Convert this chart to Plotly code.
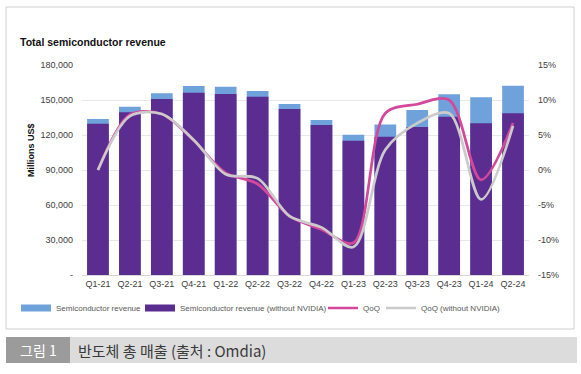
import plotly.graph_objects as go

quarters = ["Q1-21", "Q2-21", "Q3-21", "Q4-21", "Q1-22", "Q2-22", "Q3-22",
            "Q4-22", "Q1-23", "Q2-23", "Q3-23", "Q4-23", "Q1-24", "Q2-24"]
revenue_total = [133700, 144300, 155700, 162000, 161400, 157700, 146600,
                 132900, 120300, 129100, 141400, 154900, 152300, 162300]
revenue_ex_nvidia = [129700, 139400, 150900, 156300, 155100, 152800, 142300,
                     128600, 115100, 118600, 126900, 135700, 130000, 138600]
qoq_total = [0.0, 7.9, 8.0, 4.2, -0.4, -2.0, -6.6, -8.5, -10.4, 8.1, 9.4, 10.0, -1.4, 6.7]
qoq_ex_nvidia = [0.0, 7.7, 8.0, 4.3, -0.6, -1.2, -6.6, -8.2, -11.0, 2.9, 6.7, 8.1, -4.2, 6.3]

left_tickvals = [0, 30000, 60000, 90000, 120000, 150000, 180000]
left_ticktext = ["-", "30,000", "60,000", "90,000", "120,000", "150,000", "180,000"]
right_tickvals = [-15, -10, -5, 0, 5, 10, 15]
right_ticktext = ["-15%", "-10%", "-5%", "0%", "5%", "10%", "15%"]

BLUE = "#6FA1DB"
PURPLE = "#5C2D91"
PINK = "#D4489C"
GRAY = "#CBCBCB"
FONT = "Liberation Sans"
TXT = "#404040"

OFF = 0  # body margin removed by post_script
W, H = 581, 374
PL, PT, PWID, PHGT = 82, 65, 447, 210  # plot area in page pixels
L, T = PL - OFF, PT - OFF
R, B = W - L - PWID, H - T - PHGT


def px(x):
    return (x - PL) / PWID


def py(y):
    return (PT + PHGT - y) / PHGT


fig = go.Figure()
fig.add_trace(go.Bar(x=quarters, y=revenue_total, name="Semiconductor revenue",
                     marker=dict(color=BLUE, line=dict(width=0)), width=0.68,
                     showlegend=False))
fig.add_trace(go.Bar(x=quarters, y=revenue_ex_nvidia, name="Semiconductor revenue (without NVIDIA)",
                     marker=dict(color=PURPLE, line=dict(width=0)), width=0.68,
                     showlegend=False))
fig.add_trace(go.Scatter(x=quarters, y=qoq_total, name="QoQ", yaxis="y2", mode="lines",
                         line=dict(color=PINK, width=2.7, shape="spline", smoothing=0.9),
                         legend="legend3"))
fig.add_trace(go.Scatter(x=quarters, y=qoq_ex_nvidia, name="QoQ (without NVIDIA)", yaxis="y2",
                         mode="lines",
                         line=dict(color=GRAY, width=2.7, shape="spline", smoothing=0.9),
                         legend="legend4"))
# legend-only entries for the bar series (rectangular swatches)
fig.add_trace(go.Scatter(x=[None], y=[None], name="Semiconductor revenue", mode="lines",
                         line=dict(color=BLUE, width=7), legend="legend", hoverinfo="skip"))
fig.add_trace(go.Scatter(x=[None], y=[None], name="Semiconductor revenue (without NVIDIA)",
                         mode="lines", line=dict(color=PURPLE, width=7), legend="legend2",
                         hoverinfo="skip"))

shapes = [
    dict(type="rect", xref="paper", yref="paper", x0=px(6), x1=px(574), y0=py(329), y1=py(7),
         line=dict(color="#D0D0D0", width=1), fillcolor="rgba(0,0,0,0)", layer="below"),
    dict(type="rect", xref="paper", yref="paper", x0=px(6), x1=px(577), y0=py(363), y1=py(337),
         line=dict(width=0), fillcolor="#DCDCDC", layer="below"),
    dict(type="rect", xref="paper", yref="paper", x0=px(6), x1=px(70), y0=py(363), y1=py(337),
         line=dict(width=0), fillcolor="#9B9B9B", layer="below"),
]

annotations = [
    dict(text="<b>Total semiconductor revenue</b>", xref="paper", yref="paper",
         x=px(18), y=py(42), xanchor="left", yanchor="middle", showarrow=False,
         font=dict(family=FONT, size=10.5, color="#111111")),
    dict(text="<b>Millions US$</b>", xref="paper", yref="paper", x=px(31), y=py(150),
         xanchor="center", yanchor="middle", textangle=-90, showarrow=False,
         font=dict(family=FONT, size=9, color="#111111")),
    dict(text="그림 1", xref="paper", yref="paper", x=px(38), y=py(350),
         xanchor="center", yanchor="middle", showarrow=False,
         font=dict(family="Noto Sans CJK KR", size=14, color="#FFFFFF")),
    dict(text="반도체 총 매출 (출처 : Omdia)", xref="paper", yref="paper", x=px(76), y=py(350),
         xanchor="left", yanchor="middle", showarrow=False,
         font=dict(family="Noto Sans CJK KR", size=15, color="#3A3A3A")),
]


def legend_at(text_x):
    return dict(orientation="h", xref="container", yref="container",
                x=(text_x - 40 - OFF) / W, y=1 - (308 - OFF) / H,
                xanchor="left", yanchor="middle",
                font=dict(family=FONT, size=8, color="#595959"),
                itemwidth=30, bgcolor="rgba(0,0,0,0)", borderwidth=0)


fig.update_layout(
    width=W, height=H,
    margin=dict(l=L, r=R, t=T, b=B, autoexpand=False),
    paper_bgcolor="white", plot_bgcolor="white",
    barmode="overlay",
    font=dict(family=FONT, size=9, color=TXT),
    xaxis=dict(showgrid=False, showline=True, linecolor="#D9D9D9", linewidth=1,
               ticks="", tickfont=dict(size=9, color=TXT)),
    yaxis=dict(range=[0, 180000], tickvals=left_tickvals, ticktext=left_ticktext,
               showgrid=True, gridcolor="#E8E8E8", gridwidth=1, zeroline=False,
               showline=False, ticks="", tickfont=dict(size=9, color=TXT), ticklabelstandoff=8),
    yaxis2=dict(range=[-15, 15], tickvals=right_tickvals, ticktext=right_ticktext,
                overlaying="y", side="right", showgrid=False, zeroline=False,
                showline=False, ticks="", tickfont=dict(size=9, color=TXT), ticklabelstandoff=8),
    legend=legend_at(56),
    legend2=legend_at(180),
    legend3=legend_at(363),
    legend4=legend_at(421),
    shapes=shapes,
    annotations=annotations,
    showlegend=True,
)

fig.write_html("out.html", config={"displayModeBar": False},
               post_script="document.body.style.margin='0';")
